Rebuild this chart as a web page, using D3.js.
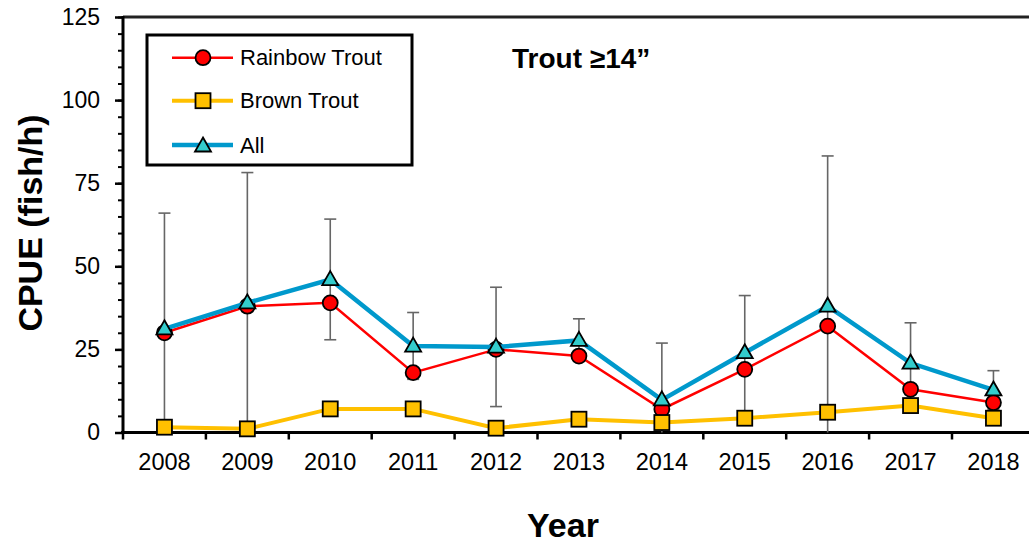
<!DOCTYPE html>
<html>
<head>
<meta charset="utf-8">
<script src="https://cdn.jsdelivr.net/npm/d3@7"></script>
<style>
  html, body { margin: 0; padding: 0; background: #fff; }
  svg { display: block; font-family: Arial, "Liberation Sans", sans-serif; }
</style>
</head>
<body>
<svg id="chart" width="1029" height="546"></svg>
<script>
// ---- data ----
const years = ["2008","2009","2010","2011","2012","2013","2014","2015","2016","2017","2018"];
const rainbowTrout = [30, 38, 39, 18, 25, 23, 7, 19, 32, 13, 9];
const brownTrout   = [1.6, 1.1, 7.1, 7.1, 1.3, 4, 3, 4.3, 6.1, 8.1, 4.3];
const allTrout     = [31.2, 39, 46, 26, 25.7, 27.7, 9.8, 24, 38, 20.9, 12.8];
const allUpper     = [66, 78.2, 64.2, 36.1, 43.7, 34.2, 26.9, 41.2, 83.2, 33, 18.6];
const allLower     = [0, 0, 27.9, 16, 7.8, 21.5, 0, 5, 0, 9, 7];
const yMajorTicks  = [0, 25, 50, 75, 100, 125];
const seriesNames  = ["Rainbow Trout", "Brown Trout", "All"];
const titleText    = "Trout ≥14”";
const xTitle       = "Year";
const yTitle       = "CPUE (fish/h)";

// ---- layout ----
const svg = d3.select("#chart");
const plotLeft = 123, plotTop = 17, plotBottom = 432.5, bandW = 82.9;
const x = d3.scaleBand().domain(years).range([plotLeft, plotLeft + bandW * years.length]).padding(0);
const y = d3.scaleLinear().domain([0, 125]).range([plotBottom, plotTop]);
const cx = d => x(d) + x.bandwidth() / 2;

const colors = { rainbow: "#ff0000", brown: "#ffc000", all: "#0099cc", tri: "#33cccc" };

// ---- y axis ----
const yMinor = d3.range(0, 126, 5);
const gMinor = svg.append("g").attr("transform", `translate(${plotLeft},0)`)
  .call(d3.axisLeft(y).tickValues(yMinor).tickSize(5).tickFormat(""));
gMinor.select(".domain").remove();
gMinor.selectAll(".tick line").attr("stroke", "#000").attr("stroke-width", 2);

const gY = svg.append("g").attr("transform", `translate(${plotLeft},0)`)
  .call(d3.axisLeft(y).tickValues(yMajorTicks).tickSize(8).tickPadding(15));
gY.select(".domain").remove();
gY.selectAll(".tick line").attr("stroke", "#000").attr("stroke-width", 2.5);
gY.selectAll(".tick text").attr("font-size", 23).attr("fill", "#000")
  .attr("font-family", "Arial, 'Liberation Sans', sans-serif");

// top border and y axis line
svg.append("line").attr("x1", plotLeft).attr("x2", 1029).attr("y1", y(125)).attr("y2", y(125))
  .attr("stroke", "#222").attr("stroke-width", 3);
svg.append("line").attr("x1", plotLeft).attr("x2", plotLeft).attr("y1", y(125) - 1).attr("y2", y(0) + 1)
  .attr("stroke", "#000").attr("stroke-width", 3);

// ---- x axis ----
const gX = svg.append("g").attr("transform", `translate(0,${y(0)})`)
  .call(d3.axisBottom(x).tickSize(0).tickPadding(21));
gX.select(".domain").remove();
gX.selectAll(".tick text").attr("font-size", 23.5).attr("fill", "#000")
  .attr("font-family", "Arial, 'Liberation Sans', sans-serif");
svg.append("g").selectAll("line").data(years).join("line")
  .attr("x1", d => x(d)).attr("x2", d => x(d))
  .attr("y1", y(0)).attr("y2", y(0) + 7)
  .attr("stroke", "#000").attr("stroke-width", 2.5);
svg.append("line").attr("x1", plotLeft - 2).attr("x2", 1029).attr("y1", y(0)).attr("y2", y(0))
  .attr("stroke", "#000").attr("stroke-width", 3);

// ---- error bars ----
const eb = svg.append("g").attr("stroke", "#666").attr("stroke-width", 1.6);
years.forEach((yr, i) => {
  const px = cx(yr);
  eb.append("line").attr("x1", px).attr("x2", px).attr("y1", y(allUpper[i])).attr("y2", y(allLower[i]));
  eb.append("line").attr("x1", px - 6).attr("x2", px + 6).attr("y1", y(allUpper[i])).attr("y2", y(allUpper[i]));
  if (allLower[i] > 0) {
    eb.append("line").attr("x1", px - 6).attr("x2", px + 6).attr("y1", y(allLower[i])).attr("y2", y(allLower[i]));
  }
});

// ---- series ----
const line = d3.line().x((d, i) => cx(years[i])).y(d => y(d));

function circleM(g, px, py) {
  g.append("circle").attr("cx", px).attr("cy", py).attr("r", 7.5)
    .attr("fill", colors.rainbow).attr("stroke", "#000").attr("stroke-width", 1.8);
}
function squareM(g, px, py) {
  g.append("rect").attr("x", px - 7.5).attr("y", py - 7.5).attr("width", 15).attr("height", 15)
    .attr("fill", colors.brown).attr("stroke", "#000").attr("stroke-width", 1.8);
}
function triM(g, px, py) {
  g.append("path").attr("d", `M${px},${py - 8.5} L${px + 8},${py + 5.5} L${px - 8},${py + 5.5} Z`)
    .attr("fill", colors.tri).attr("stroke", "#000").attr("stroke-width", 1.8).attr("stroke-linejoin", "miter");
}

const gs = svg.append("g");
gs.append("path").datum(rainbowTrout).attr("d", line).attr("fill", "none")
  .attr("stroke", colors.rainbow).attr("stroke-width", 2.5);
rainbowTrout.forEach((v, i) => circleM(gs, cx(years[i]), y(v)));

gs.append("path").datum(brownTrout).attr("d", line).attr("fill", "none")
  .attr("stroke", colors.brown).attr("stroke-width", 4);
brownTrout.forEach((v, i) => squareM(gs, cx(years[i]), y(v)));

gs.append("path").datum(allTrout).attr("d", line).attr("fill", "none")
  .attr("stroke", colors.all).attr("stroke-width", 4.5);
allTrout.forEach((v, i) => triM(gs, cx(years[i]), y(v)));

// ---- legend ----
const lg = svg.append("g");
lg.append("rect").attr("x", 147).attr("y", 35).attr("width", 265).attr("height", 130)
  .attr("fill", "#fff").attr("stroke", "#000").attr("stroke-width", 3);
const rows = [57.7, 100.7, 145];
const lColors = [colors.rainbow, colors.brown, colors.all];
const lWidths = [2.5, 4, 4.5];
const lMarkers = [circleM, squareM, triM];
rows.forEach((ry, i) => {
  lg.append("line").attr("x1", 172).attr("x2", 233).attr("y1", ry).attr("y2", ry)
    .attr("stroke", lColors[i]).attr("stroke-width", lWidths[i]);
  lMarkers[i](lg, 203, ry + (i === 2 ? 1 : 0));
  lg.append("text").attr("x", 240).attr("y", ry + 7.5).attr("font-size", 22).attr("fill", "#000")
    .text(seriesNames[i]);
});

// ---- titles ----
svg.append("text").attr("x", 512).attr("y", 68).attr("font-size", 28).attr("font-weight", "bold")
  .attr("fill", "#000").text(titleText);
svg.append("text").attr("x", 563).attr("y", 537).attr("text-anchor", "middle")
  .attr("font-size", 34).attr("font-weight", "bold").attr("fill", "#000").text(xTitle);
svg.append("text").attr("transform", "translate(42,223) rotate(-90)").attr("text-anchor", "middle")
  .attr("font-size", 34).attr("font-weight", "bold").attr("fill", "#000").text(yTitle);
</script>
</body>
</html>
